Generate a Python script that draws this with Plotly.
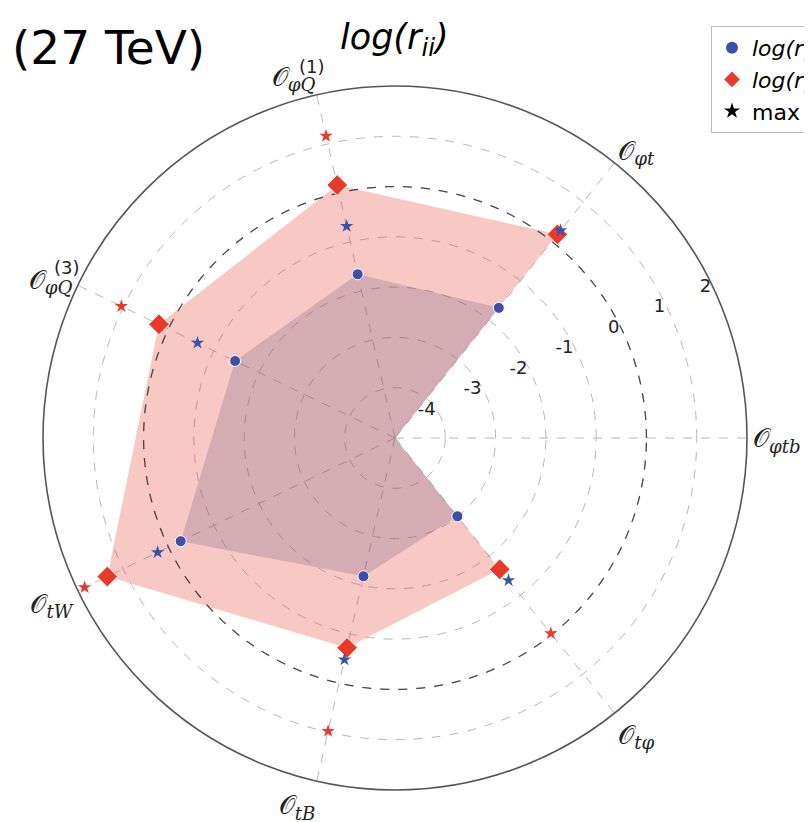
import numpy as np
import plotly.graph_objects as go

# ---- data -------------------------------------------------------------
operators = ["φtb", "φt", "φQ1", "φQ3", "tW", "tB", "tφ"]
tick_labels = [
    "𝒪<sub><i>φtb</i></sub>",
    "𝒪<sub><i>φt</i></sub>",
    "𝒪<sub><i>φQ</i></sub>",
    "𝒪<sub><i>φQ</i></sub>",
    "𝒪<sub><i>tW</i></sub>",
    "𝒪<sub><i>tB</i></sub>",
    "𝒪<sub><i>tφ</i></sub>",
]
tick_superscripts = ["", "", "(1)", "(3)", "", "", ""]
log_r_blue = [-5.0, -1.69, -1.66, -1.47, -0.27, -2.18, -3.01]
log_r_red = [-5.0, 0.18, 0.16, 0.21, 1.35, -0.72, -1.66]
max_blue = [None, 0.28, -0.68, -0.64, 0.24, -0.48, -1.38]
max_red = [None, 0.22, 1.16, 1.04, 1.85, 0.98, -0.03]
radial_ticks = [-4, -3, -2, -1, 0, 1, 2]
legend_names = ["<i>log(r<sub>ii</sub>)</i> HL-LHC", "<i>log(r<sub>ii</sub>)</i> HE-LHC", "max"]

# ---- geometry ---------------------------------------------------------
n = len(operators)
theta = [i * 360.0 / n for i in range(n)]
theta_closed = theta + [theta[0]]

def closed(v):
    return list(v) + [v[0]]

BLUE = "#3b50a6"
RED = "#e8392a"

fig = go.Figure()

fig.add_trace(go.Scatterpolar(
    r=closed(log_r_red), theta=theta_closed, mode="lines", fill="toself",
    fillcolor="rgba(232,72,58,0.30)", line=dict(width=0), showlegend=False,
    hoverinfo="skip"))
fig.add_trace(go.Scatterpolar(
    r=closed(log_r_blue), theta=theta_closed, mode="lines", fill="toself",
    fillcolor="rgba(112,88,132,0.25)", line=dict(width=0), showlegend=False,
    hoverinfo="skip"))

# reference ring at log(r)=0
ring_theta = np.linspace(0, 360, 361)
fig.add_trace(go.Scatterpolar(
    r=[0] * len(ring_theta), theta=ring_theta, mode="lines",
    line=dict(color="rgba(60,60,60,0.9)", width=1.3, dash="dash"),
    showlegend=False, hoverinfo="skip"))

def visible_sizes(vals, size):
    return [0 if v <= -5 else size for v in vals]

fig.add_trace(go.Scatterpolar(
    r=max_red, theta=theta, mode="markers",
    marker=dict(symbol="star", size=10, color=RED, opacity=1), showlegend=False))
fig.add_trace(go.Scatterpolar(
    r=log_r_red, theta=theta, mode="markers", name=legend_names[1],
    marker=dict(symbol="diamond", size=visible_sizes(log_r_red, 16), color=RED, opacity=1),
    showlegend=False))
fig.add_trace(go.Scatterpolar(
    r=log_r_blue, theta=theta, mode="markers", name=legend_names[0],
    marker=dict(symbol="circle", size=visible_sizes(log_r_blue, 11), color=BLUE, opacity=1),
    showlegend=False))
fig.add_trace(go.Scatterpolar(
    r=max_blue, theta=theta, mode="markers",
    marker=dict(symbol="star", size=10, color=BLUE, opacity=1), showlegend=False))

# legend entries
fig.add_trace(go.Scatterpolar(r=[None], theta=[0], mode="markers", name=legend_names[0],
                              marker=dict(symbol="circle", size=11, color=BLUE)))
fig.add_trace(go.Scatterpolar(r=[None], theta=[0], mode="markers", name=legend_names[1],
                              marker=dict(symbol="diamond", size=14, color=RED)))
fig.add_trace(go.Scatterpolar(r=[None], theta=[0], mode="markers", name=legend_names[2],
                              marker=dict(symbol="star", size=10, color="black")))

W, H = 812, 822
cx, cy, R = 387, 430, 352

# superscripts of the stacked operator labels (placed above their subscripts)
sup_pos = {2: (304, 58), 3: (59, 259)}
annotations = [
    dict(text="(27 TeV)", x=2 / W, y=1 - 39 / H, xref="paper", yref="paper",
         xanchor="left", yanchor="middle", showarrow=False, font=dict(size=47)),
    dict(text="<i>log(r<sub>ii</sub>)</i>", x=386 / W, y=1 - 32 / H, xref="paper", yref="paper",
         xanchor="center", yanchor="middle", showarrow=False, font=dict(size=35)),
]
for i, s in enumerate(tick_superscripts):
    if s:
        px, py = sup_pos[i]
        annotations.append(dict(text=s, x=px / W, y=1 - py / H, xref="paper", yref="paper",
                                xanchor="center", yanchor="middle", showarrow=False,
                                font=dict(size=18, color="#222", family="DejaVu Sans")))

fig.update_layout(
    width=W, height=H,
    margin=dict(l=0, r=0, t=0, b=0, autoexpand=False),
    paper_bgcolor="white",
    font=dict(family="DejaVu Sans", color="black"),
    polar=dict(
        domain=dict(x=[(cx - R) / W, (cx + R) / W], y=[1 - (cy + R) / H, 1 - (cy - R) / H]),
        bgcolor="white",
        radialaxis=dict(
            range=[-5, 2], tickvals=radial_ticks, ticktext=[str(t) for t in radial_ticks],
            angle=24, tickangle=24, side="counterclockwise", showline=False, ticks="",
            gridcolor="#b8b8b8", griddash="dash", gridwidth=1,
            tickfont=dict(size=18, color="#222"),
        ),
        angularaxis=dict(
            type="linear", tickvals=theta, ticktext=tick_labels,
            rotation=0, direction="counterclockwise",
            showline=True, linecolor="#555", linewidth=1.6,
            gridcolor="#b8b8b8", griddash="dash", gridwidth=1, ticks="",
            tickfont=dict(size=26, color="#222", family="DejaVu Serif"),
        ),
    ),
    legend=dict(
        x=703 / W, y=1 - 18 / H, xanchor="left", yanchor="top",
        bordercolor="#bbbbbb", borderwidth=1, bgcolor="white",
        font=dict(size=22), itemsizing="constant",
    ),
    annotations=annotations,
)

fig.write_html("out.html")
